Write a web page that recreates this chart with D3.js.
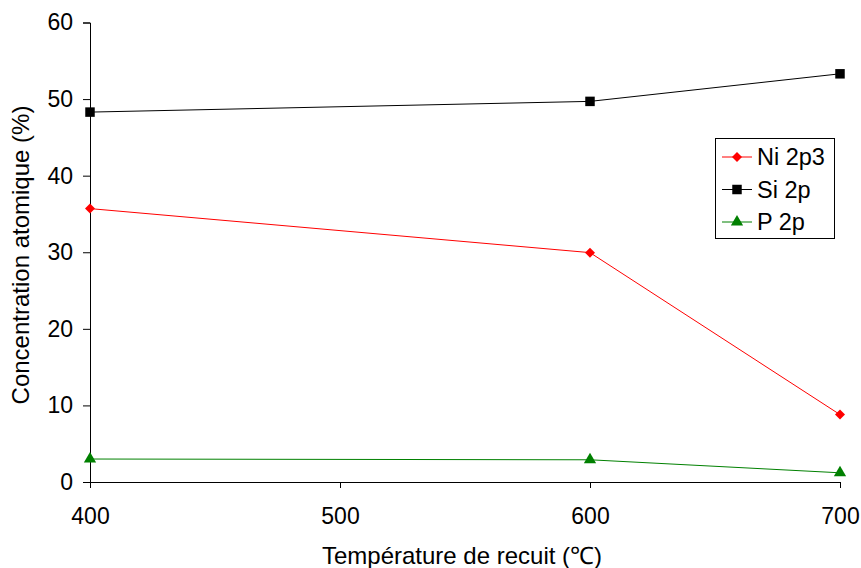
<!DOCTYPE html>
<html><head><meta charset="utf-8">
<script src="https://cdn.jsdelivr.net/npm/d3@7"></script>
<style>body{margin:0;background:#fff}svg{display:block;font-family:"Liberation Sans",Arial,sans-serif}</style>
</head><body><svg id="c" width="861" height="568"></svg>
<script>
const temps = [400, 600, 700];
const ni = [35.7, 29.95, 8.8];
const si = [48.3, 49.7, 53.3];
const p = [3.0, 2.9, 1.2];
const xTicks = [400, 500, 600, 700];
const yTicks = [0, 10, 20, 30, 40, 50, 60];
const seriesNames = ["Ni 2p3", "Si 2p", "P 2p"];

const svg = d3.select("#c");
const x = d3.scaleLinear().domain([400, 700]).range([90, 840]);
const y = d3.scaleLinear().domain([0, 60]).range([482, 22.5]);

const series = [
  {name: seriesNames[0], vals: ni, color: "#ff0000", sym: d3.symbolSquare, size: 50, rot: 45},
  {name: seriesNames[1], vals: si, color: "#000000", sym: d3.symbolSquare, size: 90, rot: 0},
  {name: seriesNames[2], vals: p, color: "#008000", sym: d3.symbolTriangle, size: 65, rot: 0}
];

const xa = svg.append("g").attr("transform", "translate(0,482)")
  .call(d3.axisBottom(x).tickValues(xTicks).tickSize(6).tickPadding(20).tickFormat(d3.format("d")));
const ya = svg.append("g").attr("transform", "translate(90,0)")
  .call(d3.axisLeft(y).tickValues(yTicks).tickSize(7).tickPadding(10).tickFormat(d3.format("d")));
[xa, ya].forEach(a => {
  a.select(".domain").attr("stroke", "#000");
  a.selectAll(".tick line").attr("stroke", "#000");
  a.selectAll("text").attr("font-size", 23).attr("fill", "#000")
    .attr("font-family", "'Liberation Sans', Arial, sans-serif");
});
svg.append("line").attr("x1", 83).attr("x2", 90).attr("y1", 482.5).attr("y2", 482.5).attr("stroke", "#000");

const line = d3.line().x((d, i) => x(temps[i])).y(d => y(d));
series.forEach(s => {
  svg.append("path").datum(s.vals).attr("d", line).attr("fill", "none")
    .attr("stroke", s.color).attr("stroke-width", 1);
  svg.selectAll(null).data(s.vals).enter().append("path")
    .attr("d", d3.symbol().type(s.sym).size(s.size))
    .attr("transform", (d, i) => `translate(${x(temps[i])},${y(d)}) rotate(${s.rot})`)
    .attr("fill", s.color);
});

svg.append("text").attr("x", 462).attr("y", 564).attr("text-anchor", "middle")
  .attr("font-size", 24).text("Température de recuit (℃)");
svg.append("text").attr("transform", "translate(29,255) rotate(-90)").attr("text-anchor", "middle")
  .attr("font-size", 24).text("Concentration atomique (%)");

const lg = svg.append("g");
lg.append("rect").attr("x", 715.5).attr("y", 138.5).attr("width", 119).attr("height", 100)
  .attr("fill", "#fff").attr("stroke", "#000");
series.forEach((s, i) => {
  const yy = 157 + i * 32.5;
  lg.append("line").attr("x1", 722).attr("x2", 752).attr("y1", yy).attr("y2", yy)
    .attr("stroke", s.color);
  lg.append("path").attr("d", d3.symbol().type(s.sym).size(s.size))
    .attr("transform", `translate(737,${yy}) rotate(${s.rot})`).attr("fill", s.color);
  lg.append("text").attr("x", 757).attr("y", yy + 8).attr("font-size", 23.5).text(s.name);
});
</script></body></html>
